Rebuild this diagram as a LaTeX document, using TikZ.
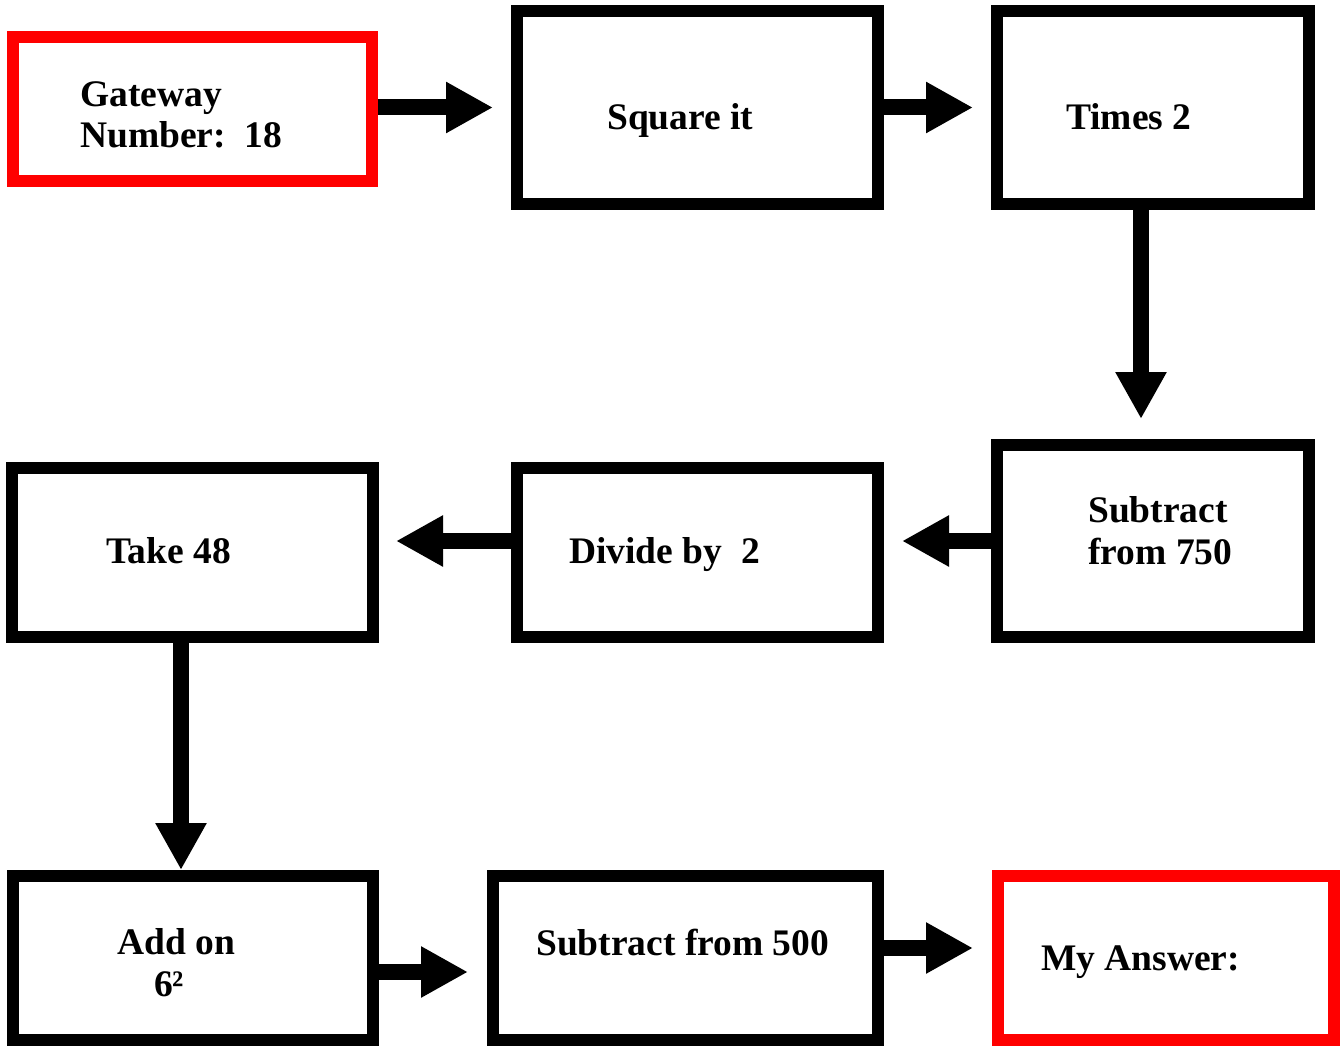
\documentclass[tikz,border=0pt]{standalone}
\usepackage{fontspec}
\setmainfont{Liberation Serif}
\usetikzlibrary{arrows.meta}
\definecolor{boxred}{RGB}{255,0,0}
\tikzset{
  box/.style={draw=black, line width=12pt, inner sep=0pt, fill=white},
  redbox/.style={box, draw=boxred},
  lbl/.style={inner sep=0pt, anchor=base west, align=left,
    font=\bfseries\fontsize{37.5}{42}\selectfont},
  arr/.style={line width=16pt, -{Triangle[length=47pt,width=48pt]}},
}
\begin{document}
\begin{tikzpicture}[x=1pt,y=1pt]
\useasboundingbox (0,0) rectangle (1341,-1046);
% boxes
\node[redbox, minimum width=359pt, minimum height=144pt] (gw) at (192.5,-109) {};
\node[box, minimum width=361pt, minimum height=193pt] (sq) at (697.5,-107.5) {};
\node[box, minimum width=312pt, minimum height=193pt] (tm) at (1153,-107.5) {};
\node[box, minimum width=312pt, minimum height=192pt] (s750) at (1153,-541) {};
\node[box, minimum width=361pt, minimum height=169pt] (dv) at (697.5,-552.5) {};
\node[box, minimum width=361pt, minimum height=169pt] (tk) at (192.5,-552.5) {};
\node[box, minimum width=360pt, minimum height=164pt] (ad) at (193,-958) {};
\node[box, minimum width=385pt, minimum height=164pt] (s500) at (685.5,-958) {};
\node[redbox, minimum width=336pt, minimum height=164pt] (ans) at (1166,-958) {};
% labels (base = last line)
\node[lbl] (tgw) at (80,-148) {Gateway\\Number:\ \ 18};
\node[lbl] (tsq) at (607,-130) {Square it};
\node[lbl] (ttm) at (1066,-130) {Times 2};
\node[lbl] (ts750) at (1088,-564) {Subtract\\from 750};
\node[lbl] (tdv) at (569,-563) {Divide by\ \ 2};
\node[lbl] (ttk) at (106,-563) {Take 48};
\node[lbl] (tad) at (117,-996) {Add on\\\hspace*{37pt}6²};
\node[lbl] (ts500) at (536,-955) {Subtract from 500};
\node[lbl] (tans) at (1041,-970) {My Answer:};
% helper coordinates
\coordinate (c1) at (1141,-300);
\coordinate (c2) at (181,-750);
\coordinate (c3) at (430,-972);
\coordinate (c4) at (930,-948);
% connectors
\draw[arr, shorten >=18pt] (gw.east |- sq.west) -- (sq.west);
\draw[arr, shorten >=18pt] (sq.east) -- (tm.west);
\draw[arr, shorten >=20pt] (c1 |- tm.south) -- (c1 |- s750.north);
\draw[arr, shorten >=18pt] (s750.west) -- (dv.east |- s750.west);
\draw[arr, shorten >=17pt] (dv.west |- s750.west) -- (tk.east |- s750.west);
\draw[arr] (c2 |- tk.south) -- (c2 |- ad.north);
\draw[arr, shorten >=19pt] (ad.east |- c3) -- (s500.west |- c3);
\draw[arr, shorten >=19pt] (s500.east |- c4) -- (ans.west |- c4);
\end{tikzpicture}
\end{document}
